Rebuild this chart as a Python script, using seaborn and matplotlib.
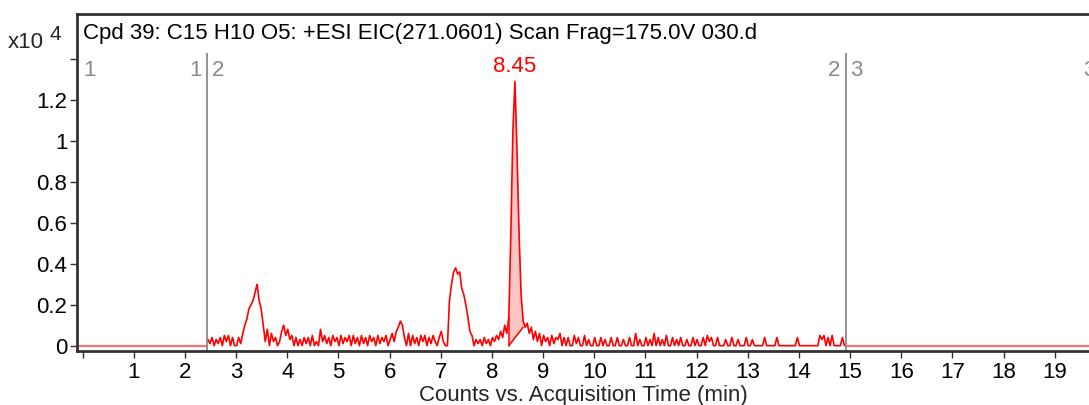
import numpy as np
import pandas as pd
import matplotlib
matplotlib.use("Agg")
import matplotlib.pyplot as plt
import seaborn as sns

# ---------------- data ----------------
title_text = "Cpd 39: C15 H10 O5: +ESI EIC(271.0601) Scan Frag=175.0V 030.d"
x_label = "Counts vs. Acquisition Time (min)"
scale_label = "x10"
scale_exp = "4"

scan_start = 2.45      # min, first scan of segment 2
scan_step = 0.04       # min between scans
# intensities (x10^4 counts), one row per minute of scans
intensity = [
    # 2.45 - 3.41
    0.03, 0.01, 0.04, 0.00, 0.03, 0.01, 0.04, 0.00, 0.05, 0.02, 0.05, 0.00, 0.04,
    0.00, 0.00, 0.04, 0.01, 0.06, 0.10, 0.13, 0.18, 0.20, 0.22, 0.26, 0.30,
    # 3.45 - 4.41
    0.22, 0.18, 0.10, 0.02, 0.08, 0.00, 0.06, 0.02, 0.04, 0.00, 0.02, 0.07, 0.10,
    0.05, 0.08, 0.03, 0.05, 0.00, 0.04, 0.00, 0.03, 0.00, 0.04, 0.01, 0.04,
    # 4.45 - 5.41
    0.00, 0.05, 0.00, 0.02, 0.00, 0.08, 0.02, 0.05, 0.01, 0.04, 0.00, 0.05, 0.02,
    0.04, 0.00, 0.05, 0.01, 0.04, 0.02, 0.05, 0.00, 0.05, 0.01, 0.04, 0.00,
    # 5.45 - 6.41
    0.05, 0.01, 0.04, 0.00, 0.05, 0.02, 0.04, 0.00, 0.05, 0.01, 0.04, 0.02, 0.05,
    0.00, 0.03, 0.06, 0.02, 0.07, 0.09, 0.12, 0.10, 0.04, 0.00, 0.06, 0.00,
    # 6.45 - 7.41
    0.05, 0.01, 0.04, 0.00, 0.05, 0.02, 0.05, 0.00, 0.04, 0.01, 0.05, 0.02, 0.00,
    0.04, 0.07, 0.02, 0.00, 0.00, 0.22, 0.30, 0.36, 0.38, 0.35, 0.36, 0.28,
    # 7.45 - 8.41
    0.25, 0.20, 0.14, 0.07, 0.05, 0.00, 0.03, 0.01, 0.03, 0.00, 0.04, 0.01, 0.03,
    0.00, 0.04, 0.02, 0.05, 0.03, 0.07, 0.04, 0.10, 0.06, 0.14, 0.55, 1.05,
    # 8.45 - 9.41
    1.29, 0.95, 0.55, 0.25, 0.12, 0.09, 0.11, 0.06, 0.09, 0.03, 0.07, 0.02, 0.06,
    0.00, 0.05, 0.02, 0.04, 0.00, 0.05, 0.01, 0.04, 0.03, 0.06, 0.00, 0.04,
    # 9.45 - 10.41
    0.00, 0.04, 0.00, 0.00, 0.05, 0.01, 0.04, 0.00, 0.00, 0.05, 0.00, 0.03, 0.00,
    0.00, 0.04, 0.00, 0.00, 0.04, 0.00, 0.03, 0.00, 0.00, 0.04, 0.00, 0.00,
    # 10.45 - 11.41
    0.04, 0.00, 0.00, 0.03, 0.00, 0.00, 0.04, 0.00, 0.00, 0.06, 0.00, 0.03, 0.00,
    0.00, 0.04, 0.00, 0.03, 0.00, 0.06, 0.00, 0.04, 0.00, 0.03, 0.00, 0.05,
    # 11.45 - 12.41
    0.00, 0.00, 0.04, 0.00, 0.03, 0.00, 0.04, 0.00, 0.00, 0.03, 0.00, 0.00, 0.04,
    0.00, 0.03, 0.00, 0.00, 0.04, 0.00, 0.05, 0.02, 0.04, 0.00, 0.00, 0.04,
    # 12.45 - 13.41
    0.00, 0.00, 0.00, 0.03, 0.00, 0.00, 0.04, 0.00, 0.00, 0.03, 0.00, 0.00, 0.00,
    0.04, 0.00, 0.00, 0.03, 0.00, 0.00, 0.00, 0.00, 0.00, 0.04, 0.00, 0.00,
    # 13.45 - 14.41
    0.00, 0.00, 0.00, 0.04, 0.00, 0.00, 0.00, 0.00, 0.00, 0.00, 0.00, 0.00, 0.00,
    0.04, 0.00, 0.00, 0.00, 0.00, 0.00, 0.00, 0.00, 0.00, 0.00, 0.00, 0.05,
    # 14.45 - 14.89
    0.03, 0.05, 0.00, 0.04, 0.00, 0.05, 0.00, 0.00, 0.00, 0.00, 0.04, 0.00,
]

segment_bounds = [2.44, 14.92]          # segment dividers (min)
segment_names = [("1", "2"), ("2", "3")]
peak_rt = 8.45
peak_label = "8.45"
integ_start = (8.33, 0.00)              # integration baseline start (min, x10^4)
integ_end = (8.61, 0.09)                # integration baseline end

x_ticks = list(range(0, 20))
x_tick_labels = [""] + [str(i) for i in range(1, 20)]
y_ticks = [0, 0.2, 0.4, 0.6, 0.8, 1.0, 1.2, 1.4]
y_tick_labels = ["0", "0.2", "0.4", "0.6", "0.8", "1", "1.2", ""]

# ---------------- figure ----------------
sns.set_theme(style="white")
plt.rcParams["font.family"] = ["Liberation Sans", "DejaVu Sans"]

W, H = 1089, 405
fig = plt.figure(figsize=(W / 100, H / 100), dpi=100)
ax = fig.add_axes([77 / W, 1 - 351 / H, 1 - 77 / W, (351 - 14) / H])

xmin, xmax = -0.11, 19.67
ymin, ymax = -0.026, 1.62

t = scan_start + scan_step * np.arange(len(intensity))
df = pd.DataFrame({"time": t, "counts": intensity})

# flat (no data) segments
flat = pd.DataFrame({"time": [xmin, segment_bounds[0], np.nan, segment_bounds[1], xmax + 1],
                     "counts": [0, 0, np.nan, 0, 0]})
ax.plot(flat["time"], flat["counts"], color="#ff7070", lw=1.6, solid_capstyle="butt")

# integration shading
mask = (df["time"] >= integ_start[0] - 1e-9) & (df["time"] <= integ_end[0] + 1e-9)
seg = df[mask]
base = np.interp(seg["time"], [integ_start[0], integ_end[0]], [integ_start[1], integ_end[1]])
ax.fill_between(seg["time"], base, seg["counts"], color="#ffc4c4", lw=0)
ax.plot([integ_start[0], integ_end[0]], [integ_start[1], integ_end[1]], color="red", lw=1.1)
ax.plot([integ_start[0], integ_start[0]], [integ_start[1], seg["counts"].iloc[0]], color="red", lw=1.1)

# trace
sns.lineplot(data=df, x="time", y="counts", ax=ax, color="red", lw=1.2, estimator=None)

# segment dividers
for b in segment_bounds:
    ax.vlines(b, ymin, 1.43, color="#808080", lw=1.2)
lab_y = 1.345
gray = "#8a8a8a"
fs = 16
ax.text(xmin + 0.12, lab_y, "1", color=gray, fontsize=fs, ha="left", va="center")
for b, (l, r) in zip(segment_bounds, segment_names):
    ax.text(b - 0.12, lab_y, l, color=gray, fontsize=fs, ha="right", va="center")
    ax.text(b + 0.08, lab_y, r, color=gray, fontsize=fs, ha="left", va="center")
ax.text(19.55, lab_y, "3", color=gray, fontsize=fs, ha="left", va="center", clip_on=True)

# peak label
ax.text(peak_rt, 1.31, peak_label, color="red", fontsize=fs, ha="center", va="bottom")

ax.set_xlim(xmin, xmax)
ax.set_ylim(ymin, ymax)
ax.set_xticks(x_ticks)
ax.set_xticklabels(x_tick_labels, fontsize=fs)
ax.set_yticks(y_ticks)
ax.set_yticklabels(y_tick_labels, fontsize=fs)
ax.tick_params(axis="both", direction="out", length=5, width=1, color="#303030",
               bottom=True, left=True, pad=2, labelcolor="black")
ax.tick_params(axis="x", pad=3)
ax.set_xlabel(x_label, fontsize=fs, labelpad=1)
ax.set_ylabel("")

for s in ["top", "left", "bottom"]:
    ax.spines[s].set_visible(True)
    ax.spines[s].set_color("#333333")
    ax.spines[s].set_linewidth(2)
ax.spines["right"].set_visible(False)
ax.grid(False)

# title inside frame
fig.text(83 / W, 1 - 34 / H, title_text, fontsize=fs, ha="left", va="center", color="black")
fig.text(44 / W, 1 - 43 / H, scale_label, fontsize=fs, ha="right", va="center")
fig.text(49 / W, 1 - 35 / H, scale_exp, fontsize=fs - 1, ha="left", va="center")

fig.savefig("out.png", dpi=100)
